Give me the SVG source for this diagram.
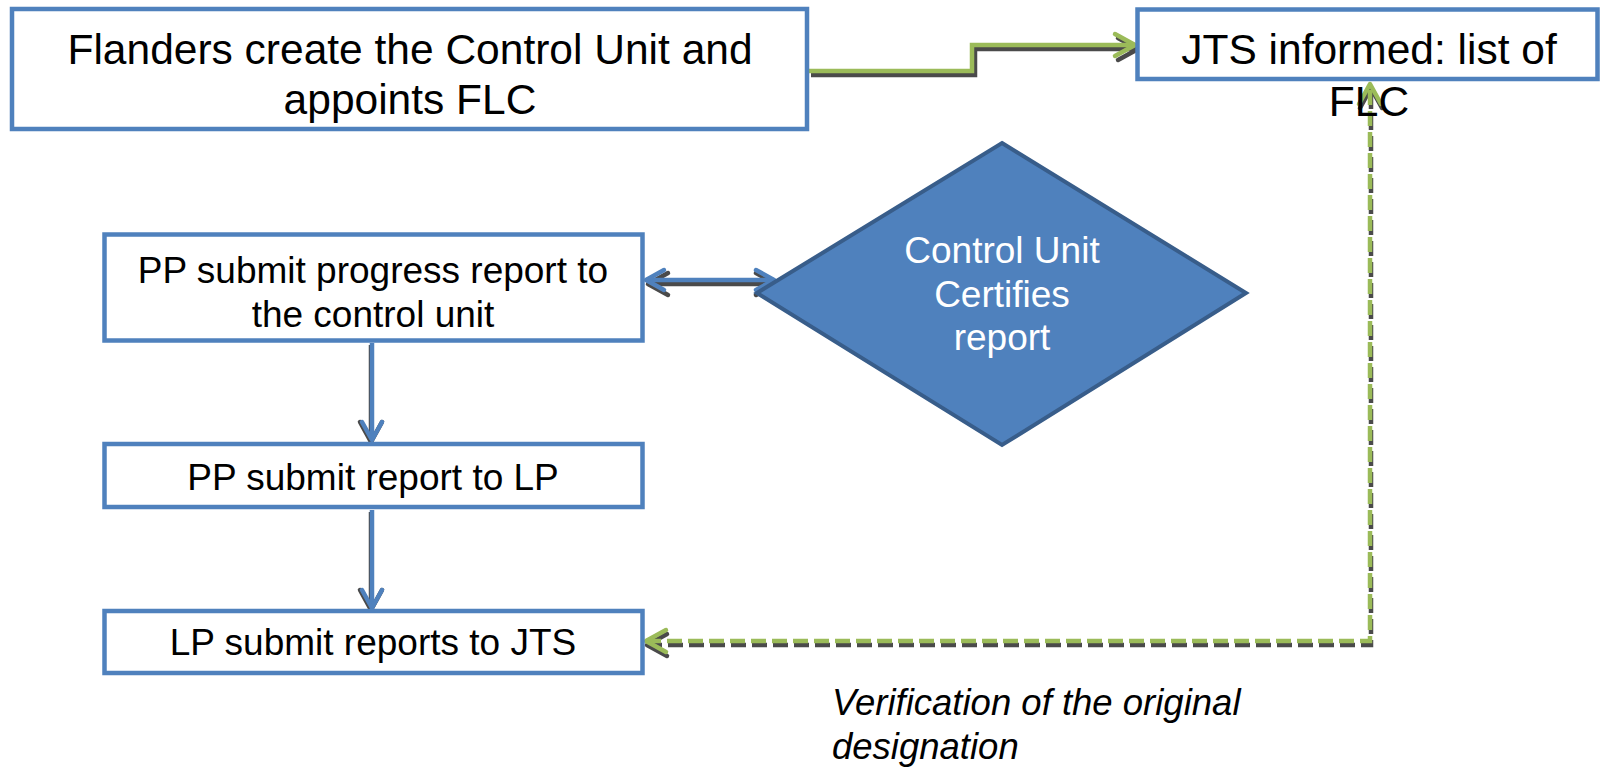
<svg xmlns="http://www.w3.org/2000/svg" width="1600" height="767" viewBox="0 0 1600 767">
<style>
  .box { fill: #FFFFFF; stroke: #4F81BD; stroke-width: 4.5; }
  .dia { fill: #4F81BD; stroke: #385D8A; stroke-width: 4; }
  .t { font-family: "Liberation Sans", Arial, sans-serif; fill: #000000; text-anchor: middle; }
  .big { font-size: 42.5px; }
  .mid { font-size: 37px; }
  .w { fill: #FFFFFF; }
  .it { font-family: "Liberation Sans", Arial, sans-serif; font-style: italic; font-size: 36.5px; fill: #000000; }
  .sh { fill: none; stroke: #4A4A4A; stroke-width: 4.5; }
  .gr { fill: none; stroke: #9BBB59; stroke-width: 4.5; }
  .bl { fill: none; stroke: #4F81BD; stroke-width: 4.5; }
  .dash { stroke-dasharray: 15 6; }
</style>
<defs>
  <marker id="mg" markerUnits="userSpaceOnUse" markerWidth="40" markerHeight="40" refX="0" refY="0" orient="auto-start-reverse" overflow="visible">
    <path d="M-20,-11 L0,0 L-20,11" fill="none" stroke="#9BBB59" stroke-width="4.5" stroke-linecap="round" stroke-linejoin="round"/>
  </marker>
  <marker id="mb" markerUnits="userSpaceOnUse" markerWidth="40" markerHeight="40" refX="0" refY="0" orient="auto-start-reverse" overflow="visible">
    <path d="M-18,-10 L0,0 L-18,10" fill="none" stroke="#4F81BD" stroke-width="4.5" stroke-linecap="round" stroke-linejoin="round"/>
  </marker>
  <marker id="ms" markerUnits="userSpaceOnUse" markerWidth="40" markerHeight="40" refX="0" refY="0" orient="auto-start-reverse" overflow="visible">
    <path d="M-20,-11 L0,0 L-20,11" fill="none" stroke="#4A4A4A" stroke-width="4.5" stroke-linecap="round" stroke-linejoin="round"/>
  </marker>
</defs>

<g id="connectors">
  <g id="c-flanders-jts">
    <path class="sh" d="M808,71 H972 V45 H1135" transform="translate(3,4)" marker-end="url(#ms)"/>
    <path class="gr" d="M808,71 H972 V45 H1135" marker-end="url(#mg)"/>
  </g>
  <g id="c-pp-cu">
    <path class="sh" d="M646,280 H774" transform="translate(2,4)" marker-start="url(#ms)" marker-end="url(#ms)"/>
    <path class="bl" d="M646,280 H774" marker-start="url(#mb)" marker-end="url(#mb)"/>
  </g>
  <g id="c-pp-pp2">
    <path class="sh" d="M372,343 V440" transform="translate(-1,2)" marker-end="url(#ms)"/>
    <path class="bl" d="M372,343 V440" marker-end="url(#mb)"/>
  </g>
  <g id="c-pp2-lp">
    <path class="sh" d="M372,510 V608" transform="translate(-1,2)" marker-end="url(#ms)"/>
    <path class="bl" d="M372,510 V608" marker-end="url(#mb)"/>
  </g>
  <g id="c-verify">
    <path class="sh dash" d="M646,641 H1370 V84" transform="translate(1,4)" marker-start="url(#ms)" marker-end="url(#ms)"/>
    <path class="gr dash" d="M646,641 H1370 V84" marker-start="url(#mg)" marker-end="url(#mg)"/>
  </g>
</g>

<g id="n-flanders">
  <rect class="box" x="12" y="9" width="795" height="120"/>
  <text class="t big" x="410" y="64">Flanders create the Control Unit and</text>
  <text class="t big" x="410" y="114">appoints FLC</text>
</g>

<g id="n-jts">
  <rect class="box" x="1137.5" y="9.5" width="460" height="69.5"/>
  <text class="t big" x="1369" y="64">JTS informed: list of</text>
  <text class="t big" x="1369" y="116">FLC</text>
</g>

<g id="n-control">
  <polygon class="dia" points="1002,143 1246,293 1002,445 757,293"/>
  <text class="t mid w" x="1002" y="263">Control Unit</text>
  <text class="t mid w" x="1002" y="307">Certifies</text>
  <text class="t mid w" x="1002" y="350">report</text>
</g>

<g id="n-pp-progress">
  <rect class="box" x="104.5" y="234.5" width="538" height="106"/>
  <text class="t mid" x="373" y="283">PP submit progress report to</text>
  <text class="t mid" x="373" y="327">the control unit</text>
</g>

<g id="n-pp-lp">
  <rect class="box" x="104.5" y="444" width="538" height="63"/>
  <text class="t mid" x="373" y="490">PP submit report to LP</text>
</g>

<g id="n-lp-jts">
  <rect class="box" x="104.5" y="611" width="538" height="62"/>
  <text class="t mid" x="373" y="655">LP submit reports to JTS</text>
</g>

<g id="label-verify">
  <text class="it" x="832" y="715">Verification of the original</text>
  <text class="it" x="832" y="759">designation</text>
</g>
</svg>
